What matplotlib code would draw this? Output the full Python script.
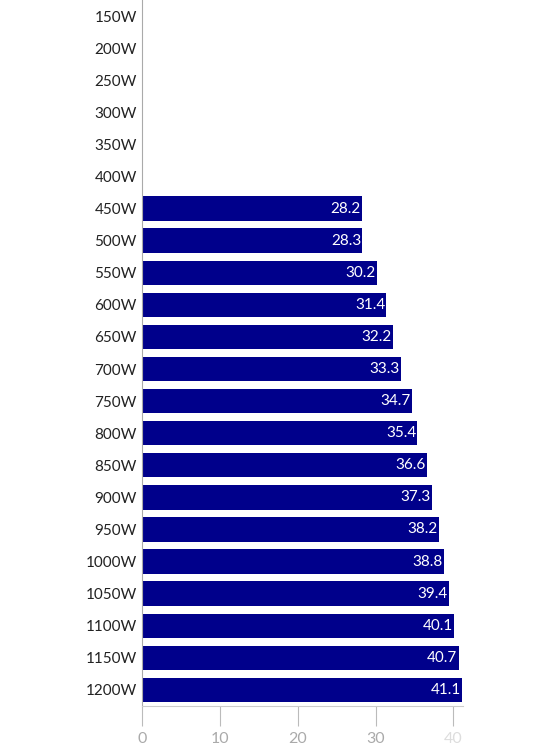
import matplotlib.pyplot as plt
import numpy as np

plt.rcParams['font.family'] = ['Lato', 'DejaVu Sans']

categories = ['150W', '200W', '250W', '300W', '350W', '400W', '450W', '500W',
              '550W', '600W', '650W', '700W', '750W', '800W', '850W', '900W',
              '950W', '1000W', '1050W', '1100W', '1150W', '1200W']
values = [None, None, None, None, None, None, 28.2, 28.3,
          30.2, 31.4, 32.2, 33.3, 34.7, 35.4, 36.6, 37.3,
          38.2, 38.8, 39.4, 40.1, 40.7, 41.1]
x_ticks = [0, 10, 20, 30, 40]

fig = plt.figure(figsize=(5.5, 7.47), dpi=100)
ax = fig.add_axes([0.259, 0.055, 0.582, 0.945])

ypos = np.arange(len(categories))
vals = [v if v is not None else 0 for v in values]
ax.barh(ypos, vals, height=0.76, color='#00008B')
for y, v in zip(ypos, values):
    if v is not None:
        ax.text(v - 0.15, y, f'{v:.1f}', ha='right', va='center',
                color='white', fontsize=11)

ax.set_ylim(len(categories) - 0.5, -0.5)
ax.set_xlim(0, 41.2)
ax.set_yticks(ypos)
ax.set_yticklabels(categories, fontsize=11, color='#222222')
ax.tick_params(axis='y', length=0, pad=4)

ax.set_xticks(x_ticks)
ax.set_xticklabels([str(t) for t in x_ticks], fontsize=11.5)
ax.tick_params(axis='x', length=14.5, width=0.8, color='#bbbbbb', pad=4)
for lbl in ax.get_xticklabels():
    lbl.set_color('#aaaaaa')
ax.get_xticklabels()[-1].set_color('#dddddd')

for side in ['top', 'right']:
    ax.spines[side].set_visible(False)
ax.spines['left'].set_color('#aaaaaa')
ax.spines['bottom'].set_color('#cccccc')
ax.spines['left'].set_linewidth(0.8)
ax.spines['bottom'].set_linewidth(0.8)

fig.savefig('out.png', dpi=100)
